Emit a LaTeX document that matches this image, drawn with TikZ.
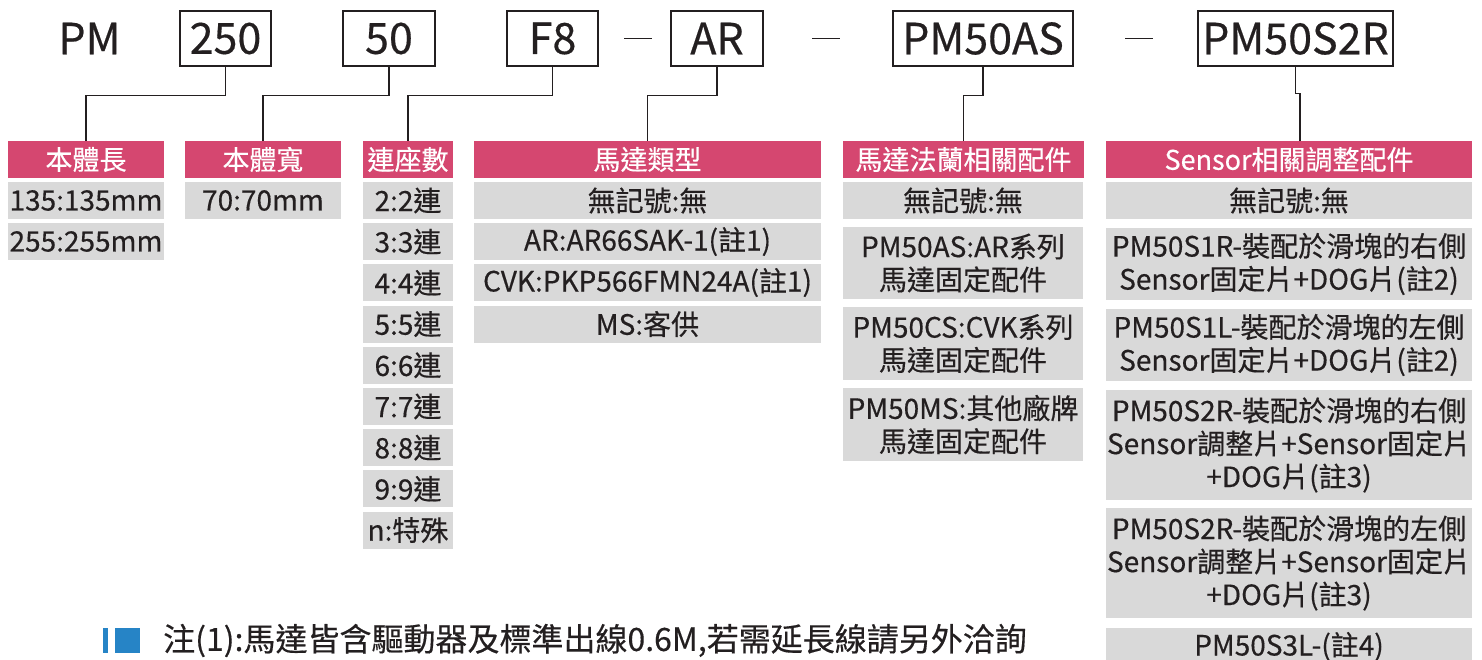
\documentclass[tikz,border=0pt]{standalone}
\usepackage{fontspec}
\setmainfont{Noto Sans CJK TC}[FakeBold=0.4]
\definecolor{headpink}{RGB}{213,71,112}
\definecolor{itemgray}{RGB}{217,217,217}
\definecolor{inkdark}{RGB}{35,31,32}
\definecolor{noteblue}{RGB}{38,132,198}
\begin{document}
\begin{tikzpicture}[x=1pt,y=-1pt,
    code/.style ={draw=inkdark, line width=1.3pt, minimum height=55pt, inner sep=0pt, text=inkdark, font=\fontsize{43}{48}\selectfont},
    heading/.style ={fill=headpink, text=white, minimum height=37pt, inner sep=0pt, font=\fontsize{27}{32}\selectfont},
    item/.style ={fill=itemgray, text=inkdark, minimum height=37pt, inner sep=0pt, align=center, font=\fontsize{28}{33}\selectfont},
    sepdash/.style ={fill=inkdark, minimum width=28pt, minimum height=1.3pt, inner sep=0pt},
    wire/.style ={draw=inkdark, line width=1.3pt}]
   \useasboundingbox (0,0) rectangle (1482,659);
   % code line
   \node[text=inkdark, inner sep=0pt, font=\fontsize{43}{48}\selectfont] (PM) at (89.5,38.5) {PM};
   \node[code, minimum width=91pt] (C1) at (225.5,38.5) {250};
   \node[code, minimum width=92pt] (C2) at (389,38.5) {50};
   \node[code, minimum width=91pt] (C3) at (552.5,38.5) {F8};
   \node[sepdash] (S1) at (638,38.5) {};
   \node[code, minimum width=92pt] (C4) at (717,38.5) {AR};
   \node[sepdash] (S2) at (826,38.5) {};
   \node[code, minimum width=180pt] (C5) at (983,38.5) {PM50AS};
   \node[sepdash] (S3) at (1139,38.5) {};
   \node[code, minimum width=195pt] (C6) at (1295.5,38.5) {PM50S2R};
   % headings
   \node[heading, minimum width=156pt] (H1) at (86,159.5) {本體長};
   \node[heading, minimum width=156pt] (H2) at (263,159.5) {本體寬};
   \node[heading, minimum width=90pt] (H3) at (408,159.5) {連座數};
   \node[heading, minimum width=347pt] (H4) at (647.5,159.5) {馬達類型};
   \node[heading, minimum width=241pt] (H5) at (963.5,159.5) {馬達法蘭相關配件};
   \node[heading, minimum width=366pt] (H6) at (1289,159.5) {Sensor相關調整配件};
   \draw[wire] (C1.south) -- ++(0,29) -| (H1.north);
   \draw[wire] (C2.south) -- ++(0,29) -| (H2.north);
   \draw[wire] (C3.south) -- ++(0,29) -| (H3.north);
   \draw[wire] (C4.south) -- ++(0,29) -| (H4.north);
   \draw[wire] (C5.south) -- ++(0,29) -| (H5.north);
   \draw[wire] (C6.south) -- ++(0,27) -| ([xshift=11pt]H6.north);
   % length, width
   \node[item, minimum width=156pt] (L1) at (86,200.5) {135:135mm};
   \node[item, minimum width=156pt] (L2) at (86,241.5) {255:255mm};
   \node[item, minimum width=156pt] (W1) at (263,200.5) {70:70mm};
   % axes
   \node[item, minimum width=90pt] (N1) at (408,200.5) {2:2連};
   \node[item, minimum width=90pt] (N2) at (408,241.7) {3:3連};
   \node[item, minimum width=90pt] (N3) at (408,282.9) {4:4連};
   \node[item, minimum width=90pt] (N4) at (408,324.1) {5:5連};
   \node[item, minimum width=90pt] (N5) at (408,365.3) {6:6連};
   \node[item, minimum width=90pt] (N6) at (408,406.5) {7:7連};
   \node[item, minimum width=90pt] (N7) at (408,447.7) {8:8連};
   \node[item, minimum width=90pt] (N8) at (408,488.9) {9:9連};
   \node[item, minimum width=90pt] (N9) at (408,530.1) {n:特殊};
   % motor
   \node[item, minimum width=347pt] (M1) at (647.5,200.5) {無記號:無};
   \node[item, minimum width=347pt] (M2) at (647.5,241.5) {AR:AR66SAK-1(註1)};
   \node[item, minimum width=347pt] (M3) at (647.5,282.5) {CVK:PKP566FMN24A(註1)};
   \node[item, minimum width=347pt] (M4) at (647.5,324) {MS:客供};
   % flange
   \node[item, minimum width=240pt] (F1) at (963,200.5) {無記號:無};
   \node[item, minimum width=240pt, minimum height=72pt] (F2) at (963,263) {PM50AS:AR系列\\馬達固定配件};
   \node[item, minimum width=240pt, minimum height=73pt] (F3) at (963,343.5) {PM50CS:CVK系列\\馬達固定配件};
   \node[item, minimum width=240pt, minimum height=73pt] (F4) at (963,424.5) {PM50MS:其他廠牌\\馬達固定配件};
   % sensor
   \node[item, minimum width=366pt] (E1) at (1289,200.5) {無記號:無};
   \node[item, minimum width=366pt, minimum height=72pt] (E2) at (1289,264) {PM50S1R-裝配於滑塊的右側\\Sensor固定片+DOG片(註2)};
   \node[item, minimum width=366pt, minimum height=72pt] (E3) at (1289,345) {PM50S1L-裝配於滑塊的左側\\Sensor固定片+DOG片(註2)};
   \node[item, minimum width=366pt, minimum height=110pt] (E4) at (1289,445) {PM50S2R-裝配於滑塊的右側\\Sensor調整片+Sensor固定片\\+DOG片(註3)};
   \node[item, minimum width=366pt, minimum height=110pt] (E5) at (1289,563) {PM50S2R-裝配於滑塊的左側\\Sensor調整片+Sensor固定片\\+DOG片(註3)};
   \node[item, minimum width=366pt] (E6) at (1289,646.5) {PM50S3L-(註4)};
   % note
   \node[fill=noteblue, minimum width=5pt, minimum height=25pt, inner sep=0pt] (Q1) at (105.5,640.5) {};
   \node[fill=noteblue, minimum width=25pt, minimum height=25pt, inner sep=0pt] (Q2) at (127.5,640.5) {};
   \node[anchor=west, inner sep=0pt, text=inkdark, font=\fontsize{32}{37}\selectfont] (NOTE) at (163,640.5) {注(1):馬達皆含驅動器及標準出線0.6M,若需延長線請另外洽詢};
 \end{tikzpicture}
\end{document}
